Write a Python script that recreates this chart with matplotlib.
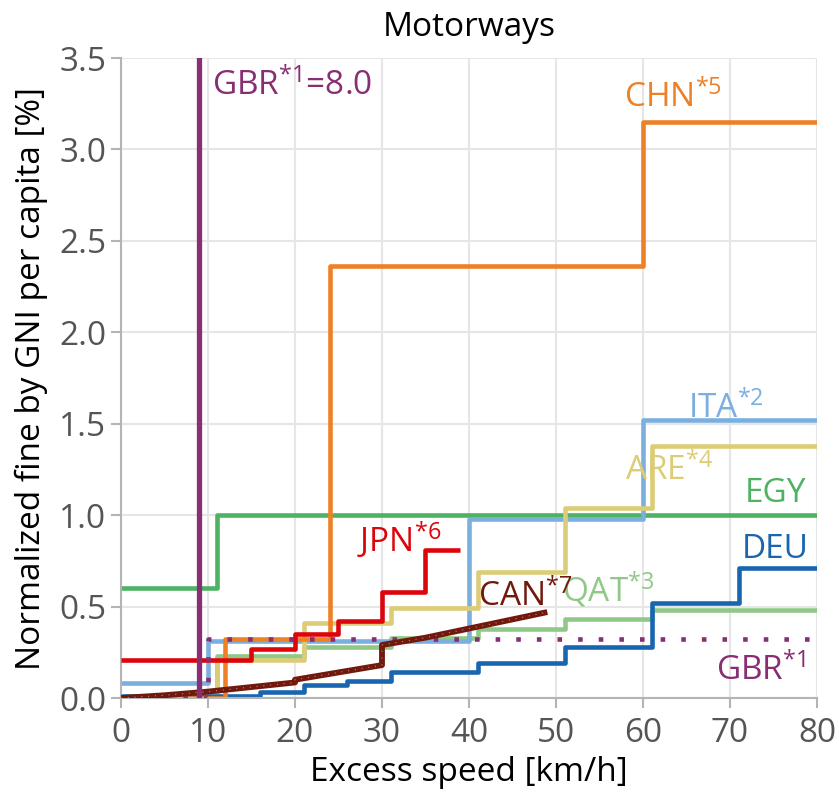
import matplotlib
matplotlib.use("Agg")
import matplotlib.pyplot as plt

plt.rcParams['font.family'] = ['Open Sans', 'DejaVu Sans']
plt.rcParams['mathtext.fontset'] = 'custom'
plt.rcParams['mathtext.rm'] = 'Open Sans'
plt.rcParams['mathtext.default'] = 'regular'

# step series: edges (km/h) and fine levels (% of GNI per capita)
ita_x = [0, 10, 40, 60, 80]
ita_y = [0.08, 0.31, 0.98, 1.52]
chn_x = [0, 12, 24, 60, 80]
chn_y = [0.0, 0.32, 2.36, 3.15]
egy_x = [0, 11, 80]
egy_y = [0.60, 1.0]
qat_x = [0, 11, 21, 31, 41, 51, 61, 80]
qat_y = [0.0, 0.23, 0.28, 0.33, 0.38, 0.43, 0.48]
are_x = [0, 11, 21, 31, 41, 51, 61, 80]
are_y = [0.0, 0.21, 0.41, 0.49, 0.69, 1.04, 1.38]
jpn_x = [0, 15, 20, 25, 30, 35, 39]
jpn_y = [0.21, 0.27, 0.35, 0.42, 0.58, 0.81]
deu_x = [0, 16, 21, 26, 31, 41, 51, 61, 71, 80]
deu_y = [0.01, 0.035, 0.07, 0.095, 0.14, 0.19, 0.28, 0.52, 0.71]
gbr_dot_x = [0, 10, 80]
gbr_dot_y = [0.0, 0.32]
gbr_jump_x = 9
gbr_jump_y = 8.0
can_x = [0, 5, 10, 15, 20, 20, 25, 30, 30, 35, 40, 45, 49]
can_y = [0.0, 0.015, 0.035, 0.06, 0.085, 0.10, 0.14, 0.18, 0.29, 0.33, 0.38, 0.43, 0.47]

colors = {
    'GBR': '#882E72', 'CHN': '#EE8026', 'ITA': '#7BAFDE', 'EGY': '#4EB265',
    'QAT': '#90C987', 'ARE': '#DDCC77', 'JPN': '#DC050C', 'DEU': '#1965B0',
    'CAN': '#72190E',
}


def stairs(ax, xs, ys, color, z):
    ax.step(xs, list(ys) + [ys[-1]], where='post', color=color, lw=3.3,
            zorder=z, solid_joinstyle='round', solid_capstyle='butt')


fig = plt.figure(figsize=(8.39, 7.95), dpi=100)
ax = fig.add_axes([0.1442, 0.122, 0.8296, 0.805])

stairs(ax, egy_x, egy_y, colors['EGY'], 2)
stairs(ax, qat_x, qat_y, colors['QAT'], 2.1)
stairs(ax, ita_x, ita_y, colors['ITA'], 2.2)
stairs(ax, are_x, are_y, colors['ARE'], 2.3)
stairs(ax, deu_x, deu_y, colors['DEU'], 2.4)
stairs(ax, chn_x, chn_y, colors['CHN'], 2.5)
stairs(ax, jpn_x, jpn_y, colors['JPN'], 2.6)
ax.step(gbr_dot_x, gbr_dot_y + [gbr_dot_y[-1]], where='post', color=colors['GBR'],
        lw=3.3, ls=(0, (1, 3.5)), dash_capstyle='butt', zorder=2.7)
ax.plot(can_x, can_y, color=colors['CAN'], lw=4.2, zorder=2.8, solid_capstyle='butt')
ax.plot(can_x, can_y, color='white', lw=0.7, ls=(0, (1, 6)), alpha=0.6, zorder=2.9)
ax.plot([gbr_jump_x, gbr_jump_x], [0, gbr_jump_y], color=colors['GBR'], lw=3.8, zorder=3)

fs = 24
ax.text(10.5, 3.35, r'GBR$^{*1}$=8.0', color=colors['GBR'], fontsize=fs, va='center')
ax.text(63.5, 3.28, r'CHN$^{*5}$', color=colors['CHN'], fontsize=fs, va='center', ha='center')
ax.text(69.5, 1.58, r'ITA$^{*2}$', color=colors['ITA'], fontsize=fs, va='center', ha='center')
ax.text(63.0, 1.24, r'ARE$^{*4}$', color=colors['ARE'], fontsize=fs, va='center', ha='center')
ax.text(75.2, 1.12, 'EGY', color=colors['EGY'], fontsize=fs, va='center', ha='center')
ax.text(75.2, 0.81, 'DEU', color=colors['DEU'], fontsize=fs, va='center', ha='center')
ax.text(56.0, 0.59, r'QAT$^{*3}$', color=colors['QAT'], fontsize=fs, va='center', ha='center')
ax.text(46.5, 0.55, r'CAN$^{*7}$', color=colors['CAN'], fontsize=fs, va='center', ha='center')
ax.text(32.0, 0.86, r'JPN$^{*6}$', color=colors['JPN'], fontsize=fs, va='center', ha='center')
ax.text(73.5, 0.15, r'GBR$^{*1}$', color=colors['GBR'], fontsize=fs, va='center', ha='center')

ax.set_xlim(0, 80)
ax.set_ylim(0, 3.5)
ax.set_xticks(range(0, 81, 10))
ax.set_yticks([i * 0.5 for i in range(8)])
ax.set_yticklabels([f'{i * 0.5:.1f}' for i in range(8)])
ax.grid(True, color='#E6E6E6', lw=1.5, zorder=0)
ax.set_axisbelow(True)
for side in ['top', 'right']:
    ax.spines[side].set_visible(False)
for side in ['left', 'bottom']:
    ax.spines[side].set_color('#B4B4B4')
    ax.spines[side].set_linewidth(1.5)
ax.tick_params(colors='#B4B4B4', labelcolor='#555555', labelsize=fs, length=7, width=1.5)
ax.tick_params(axis='x', pad=7)

ax.set_xlabel('Excess speed [km/h]', fontsize=fs, labelpad=4)
ax.set_ylabel('Normalized fine by GNI per capita [%]', fontsize=fs, labelpad=8)
ax.set_title('Motorways', fontsize=fs, pad=16)

fig.savefig('out.png', dpi=100)
